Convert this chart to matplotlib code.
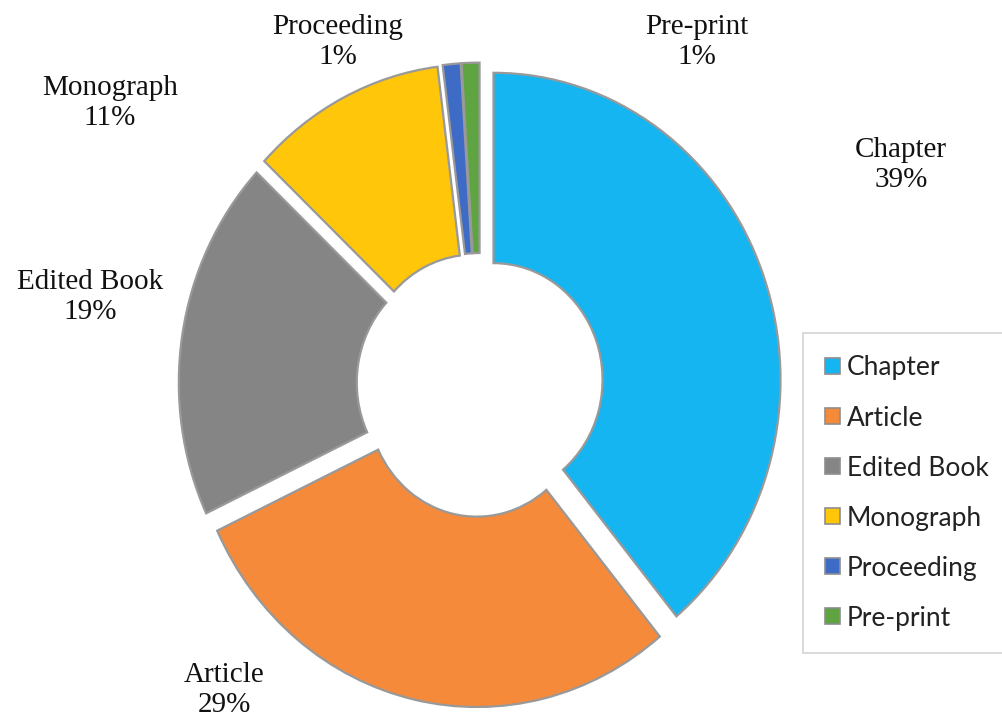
import matplotlib
matplotlib.use("Agg")
import matplotlib.pyplot as plt
from matplotlib.patches import Patch

categories = ["Chapter", "Article", "Edited Book", "Monograph", "Proceeding", "Pre-print"]
shares = [39, 29, 19, 11, 1, 1]
colors = ["#15B5F2", "#F68A3B", "#858585", "#FFC60A", "#3E6BC6", "#5EA440"]

W, H = 1002, 727
fig = plt.figure(figsize=(W / 100, H / 100), dpi=100)
ax = fig.add_axes([0, 0, 1, 1])
ax.axis("off")

wedges, _ = ax.pie(shares, colors=colors, startangle=90, counterclock=False,
                   explode=[0.05] * len(shares), radius=1.0,
                   wedgeprops=dict(width=0.62, edgecolor="#999999", linewidth=1.6))

cx, cy, rx, ry = 480, 385, 287, 307
ax.set_aspect("auto")
ax.set_xlim(-cx / rx, (W - cx) / rx)
ax.set_ylim(-(H - cy) / ry, cy / ry)

label_pos = {"Chapter": (901, 165), "Article": (224, 690), "Edited Book": (90, 297),
             "Monograph": (110, 103), "Proceeding": (338, 42), "Pre-print": (697, 42)}
for c, s in zip(categories, shares):
    x, y = label_pos[c]
    fig.text(x / W, 1 - y / H, f"{c}\n{s}%", ha="center", va="center",
             family="Liberation Serif", fontsize=21, linespacing=1.2, color="#111111")

handles = [Patch(facecolor=col, edgecolor="#8e8e8e", linewidth=1.2) for col in colors]
leg = ax.legend(handles, categories, loc="upper left",
                bbox_to_anchor=(803 / W, 1 - 333 / H), bbox_transform=fig.transFigure,
                prop=dict(family="Lato", size=19), frameon=True, fancybox=False,
                edgecolor="#c8c8c8", handlelength=0.55, handleheight=0.55,
                handletextpad=0.25, labelspacing=0.95, borderpad=0.85, borderaxespad=0)
leg.get_frame().set_linewidth(1.2)
for t in leg.get_texts():
    t.set_color("#222222")

fig.savefig("out.png", dpi=100, facecolor="white")
